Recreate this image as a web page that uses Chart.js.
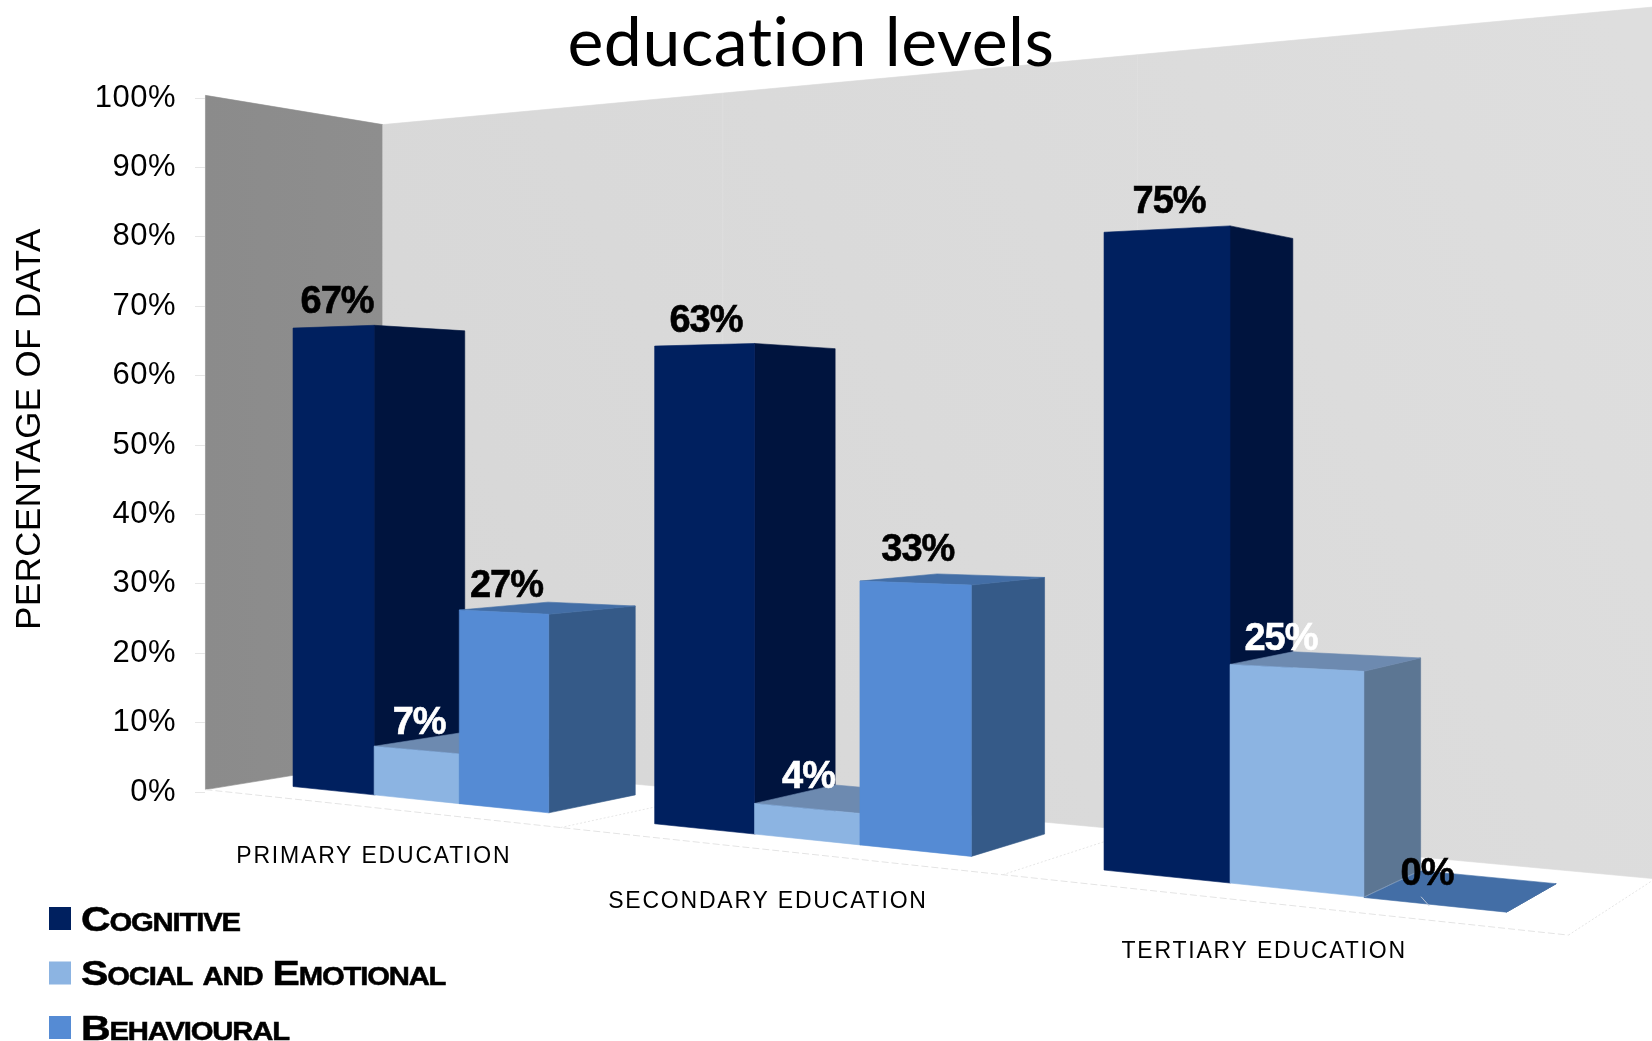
<!DOCTYPE html>
<html>
<head>
<meta charset="utf-8">
<title>education levels</title>
<script src="https://cdn.jsdelivr.net/npm/chart.js@4"></script>
<style>
  html, body { margin: 0; padding: 0; background: #fff; overflow: hidden; }
  #wrap { width: 1652px; height: 1041px; }
</style>
</head>
<body>
<div id="wrap"><canvas id="chart"></canvas></div>
<script>
const categories = ["PRIMARY EDUCATION", "SECONDARY EDUCATION", "TERTIARY EDUCATION"];
const seriesNames = ["Cognitive", "Social and Emotional", "Behavioural"];
const cognitive = [67, 63, 75];
const socialEmotional = [7, 4, 25];
const behavioural = [27, 33, 0];

// front, side and top shade of each series
const frontColors = ["#00205f", "#8cb4e2", "#558bd4"];
const sideColors = ["#00143e", "#5c7693", "#355a88"];
const topColors = ["#0b2a66", "#6d8ab0", "#436ea6"];
const labelColors = ["#000", "#fff", "#000"];

// hand placement of the value labels, [dx, dy] per series and category
const labelNudge = [
  [[4, 4], [2, 5], [3, 1]],
  [[3, 2], [2, -3], [-15, 0]],
  [[3, 2], [3, -5], [-7, -2]]
];
const categoryNudge = [[0, 2], [-1, 5], [-3, 2]];

const FONT = '"Liberation Sans", Arial, sans-serif';

// Camera: turns a flat scale position (px, py) plus a depth v into canvas pixels.
// v = 0 is the front of a bar, v = 1 its back.
const FLOOR_FRONT = -0.44, FLOOR_BACK = 1.465;
const SIDE_MARGIN = 0.56;
const UNITS = 12.36;   // chart width, in bar widths
function makeCamera(chart) {
  const area = chart.chartArea;
  const unit = (area.right - area.left) / UNITS;
  return function (px, py, v) {
    const t = (px - area.left) / unit - SIDE_MARGIN;
    const h = area.bottom - py;
    const w = 1 - 0.0237 * t + 0.0476 * v;
    return {
      x: 293 + (79.2 * t + 96.65 * v) / w,
      y: 787 + (8.17 * t - 16.3 * v - 0.987 * h) / w
    };
  };
}

function poly(ctx, pts, color) {
  ctx.beginPath();
  pts.forEach((p, i) => i ? ctx.lineTo(p.x, p.y) : ctx.moveTo(p.x, p.y));
  ctx.closePath();
  ctx.fillStyle = color;
  ctx.fill();
  ctx.strokeStyle = color;
  ctx.lineWidth = 0.6;
  ctx.stroke();
}

function line(ctx, a, b, color, dash) {
  ctx.save();
  ctx.beginPath();
  ctx.moveTo(a.x, a.y);
  ctx.lineTo(b.x, b.y);
  ctx.strokeStyle = color;
  ctx.lineWidth = 1;
  ctx.setLineDash(dash || []);
  ctx.stroke();
  ctx.restore();
}

// positive when the polygon faces the viewer
function facing(pts) {
  let sum = 0;
  pts.forEach((p, i) => {
    const n = pts[(i + 1) % pts.length];
    sum += p.x * n.y - n.x * p.y;
  });
  return sum > 0;
}

function drawRoom(chart, cam) {
  const ctx = chart.ctx, a = chart.chartArea;
  const zero = a.bottom, top = a.top - 4;

  // left wall
  const lw = ctx.createLinearGradient(a.left, 0, cam(a.left, zero, FLOOR_BACK).x, 0);
  lw.addColorStop(0, "#8b8b8b");
  lw.addColorStop(1, "#8e8e8e");
  poly(ctx, [cam(a.left, top, FLOOR_FRONT), cam(a.left, top, FLOOR_BACK),
             cam(a.left, zero, FLOOR_BACK), cam(a.left, zero, FLOOR_FRONT)], lw);

  // back wall, carried on past the right edge of the canvas
  const bw = ctx.createLinearGradient(380, 700, 1652, 100);
  bw.addColorStop(0, "#d7d7d7");
  bw.addColorStop(1, "#dedede");
  poly(ctx, [cam(a.left, top, FLOOR_BACK), cam(a.right + 10, top, FLOOR_BACK),
             cam(a.right + 10, zero, FLOOR_BACK), cam(a.left, zero, FLOOR_BACK)], bw);

  // floor outline and category dividers
  const dash = [7, 3];
  line(ctx, cam(a.left, zero, FLOOR_FRONT), cam(a.right, zero, FLOOR_FRONT), "#e4e4e4", dash);
  line(ctx, cam(a.right, zero, FLOOR_FRONT), cam(a.right, zero, FLOOR_BACK), "#e4e4e4", [2, 2]);
  const xs = chart.scales.x;
  for (let i = 1; i < categories.length; i++) {
    const px = (xs.getPixelForTick(i - 1) + xs.getPixelForTick(i)) / 2;
    line(ctx, cam(px, zero, FLOOR_FRONT), cam(px, zero, FLOOR_BACK), "#e6e6e6", [2, 2]);
    line(ctx, cam(px, zero, FLOOR_BACK), cam(px, top, FLOOR_BACK), "#dfdfdf");
  }
}

function drawBar(ctx, cam, bar, s) {
  const l = bar.x - bar.width / 2, r = bar.x + bar.width / 2;
  const y = bar.y, b = bar.base;
  // side, then top, then front so the nearer faces cover the far ones
  poly(ctx, [cam(r, y, 0), cam(r, y, 1), cam(r, b, 1), cam(r, b, 0)], sideColors[s]);
  const topFace = [cam(l, y, 0), cam(l, y, 1), cam(r, y, 1), cam(r, y, 0)];
  // tall bars rise above the eye line, their top cannot be seen
  if (facing(topFace)) poly(ctx, topFace, topColors[s]);
  if (y !== b) {
    poly(ctx, [cam(l, y, 0), cam(r, y, 0), cam(r, b, 0), cam(l, b, 0)], frontColors[s]);
  }
}

function drawValueLabels(chart, cam) {
  const ctx = chart.ctx;
  ctx.save();
  ctx.font = "bold 38px " + FONT;
  ctx.textAlign = "center";
  ctx.textBaseline = "middle";
  ctx.letterSpacing = "-1px";
  ctx.lineWidth = 0.6;
  chart.data.datasets.forEach((ds, s) => {
    chart.getDatasetMeta(s).data.forEach((bar, i) => {
      const p = cam(bar.x, bar.y, 0);
      const [dx, dy] = labelNudge[s][i];
      const text = ds.data[i] + "%";
      ctx.fillStyle = ctx.strokeStyle = labelColors[s];
      ctx.fillText(text, p.x + dx, p.y - 28 + dy);
      ctx.strokeText(text, p.x + dx, p.y - 28 + dy);
      // an empty bar gets a short leader line
      if (ds.data[i] === 0) {
        line(ctx, { x: p.x - 13, y: p.y - 8 }, { x: p.x - 5, y: p.y + 1 }, "#b9c4d4");
      }
    });
  });
  ctx.restore();
}

function drawCategoryLabels(chart, cam) {
  const ctx = chart.ctx, xs = chart.scales.x;
  ctx.save();
  ctx.font = "23px " + FONT;
  ctx.fillStyle = "#000";
  ctx.textAlign = "center";
  ctx.textBaseline = "middle";
  ctx.letterSpacing = "1.8px";
  categories.forEach((name, i) => {
    const p = cam(xs.getPixelForTick(i), chart.chartArea.bottom, FLOOR_FRONT);
    ctx.fillText(name, p.x + categoryNudge[i][0], p.y + 47 + categoryNudge[i][1]);
  });
  ctx.restore();
}

function drawLegend(chart) {
  const ctx = chart.ctx;
  chart.data.datasets.forEach((ds, s) => {
    const y = 919 + s * 54.5;
    ctx.save();
    ctx.fillStyle = frontColors[s];
    ctx.fillRect(49, y - 12, 22, 23);
    // wide, tightly set small caps
    ctx.translate(81, y + 2);
    ctx.scale(1.17, 1);
    ctx.textBaseline = "middle";
    ctx.font = "small-caps bold 35px " + FONT;
    ctx.letterSpacing = "-1px";
    ctx.fillStyle = ctx.strokeStyle = "#000";
    ctx.lineWidth = 0.5;
    ctx.fillText(ds.label, 0, 0);
    ctx.strokeText(ds.label, 0, 0);
    ctx.restore();
  });
}

function drawAxisTitle(chart) {
  const ctx = chart.ctx;
  ctx.save();
  ctx.translate(30, 429);
  ctx.rotate(-Math.PI / 2);
  ctx.font = "34.8px " + FONT;
  ctx.fillStyle = "#000";
  ctx.textAlign = "center";
  ctx.textBaseline = "middle";
  ctx.fillText("PERCENTAGE OF DATA", 0, 0);
  ctx.restore();
}

const room3d = {
  id: "room3d",
  beforeDraw(chart) {
    // walls go down first so the title can overlap them
    drawRoom(chart, makeCamera(chart));
    // keeps the title font from joining "ti" into a ligature
    chart.ctx.letterSpacing = "0.5px";
  },
  beforeDatasetsDraw(chart) {
    const cam = makeCamera(chart);
    categories.forEach((_, i) => {
      chart.data.datasets.forEach((ds, s) => {
        drawBar(chart.ctx, cam, chart.getDatasetMeta(s).data[i], s);
      });
    });
    drawValueLabels(chart, cam);
    drawCategoryLabels(chart, cam);
    drawLegend(chart);
    drawAxisTitle(chart);
    return false; // the flat bars are replaced by the ones drawn above
  }
};

new Chart(document.getElementById("chart"), {
  type: "bar",
  data: {
    labels: categories,
    datasets: [
      { label: seriesNames[0], data: cognitive, backgroundColor: frontColors[0] },
      { label: seriesNames[1], data: socialEmotional, backgroundColor: frontColors[1] },
      { label: seriesNames[2], data: behavioural, backgroundColor: frontColors[2] }
    ]
  },
  options: {
    responsive: true,
    maintainAspectRatio: false,
    animation: false,
    layout: { padding: { top: 0, right: 30, bottom: 249, left: 0 } },
    datasets: { bar: { categoryPercentage: 0.728, barPercentage: 1 } },
    plugins: {
      legend: { display: false },
      tooltip: { enabled: false },
      title: {
        display: true,
        text: "education levels",
        color: "#000",
        font: { family: "Lato", size: 68, weight: "normal", lineHeight: 1 },
        padding: { top: 10, bottom: 20 }
      }
    },
    scales: {
      x: { display: false, offset: true },
      y: {
        min: 0,
        max: 100,
        afterFit(scale) { scale.width = 205; },
        border: { display: false },
        grid: { drawOnChartArea: false, tickLength: 10, color: "#e6e6e6" },
        ticks: {
          stepSize: 10,
          padding: 19,
          color: "#000",
          font: { family: "Liberation Sans", size: 31 },
          callback: v => v + "%"
        }
      }
    }
  },
  plugins: [room3d]
});
</script>
</body>
</html>
